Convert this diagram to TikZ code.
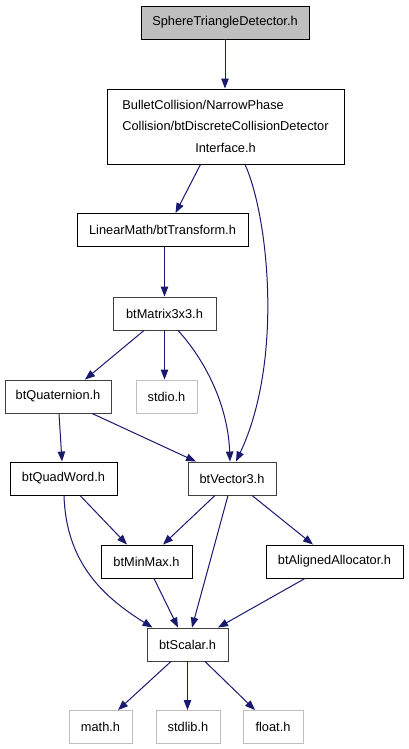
\documentclass[tikz,border=0pt]{standalone}
\usepackage{fontspec}
\setmainfont{Liberation Sans}
\usetikzlibrary{arrows.meta,calc}
\definecolor{edgeblue}{HTML}{191970}
\definecolor{rootgray}{HTML}{BFBFBF}
\definecolor{extgray}{HTML}{BFBFBF}
\definecolor{darkborder}{HTML}{404040}
\begin{document}
\begin{tikzpicture}[x=1pt,y=-1pt,
  box/.style={draw=black, line width=0.9pt, minimum height=33pt, inner sep=0pt,
    font=\fontsize{12.8}{21.5}\selectfont, anchor=center, fill=white},
  darkbox/.style={box, draw=darkborder},
  extbox/.style={box, draw=extgray},
  rootbox/.style={box, fill=rootgray},
  edge/.style={draw=edgeblue, line width=1pt, -{Triangle[length=10pt,width=7.5pt]}}
]
\useasboundingbox[fill=white] (0,0) rectangle (408,749);

\node[rootbox, minimum width=168pt] (std) at (225,22.5) {SphereTriangleDetector.h};
\node[box, minimum width=237pt, minimum height=75pt] (disc) at (225.5,126.5)
  {\begin{tabular}{@{}l@{}}BulletCollision/NarrowPhase\\Collision/btDiscreteCollisionDetector\\\multicolumn{1}{@{}c@{}}{Interface.h}\end{tabular}};
\node[box, minimum width=171pt] (trans) at (162.5,230) {LinearMath/btTransform.h};
\node[darkbox, minimum width=103pt] (mat) at (164.5,313.5) {btMatrix3x3.h};
\node[darkbox, minimum width=106pt] (quat) at (58,396.5) {btQuaternion.h};
\node[extbox, minimum width=61pt] (stdio) at (166.5,396.5) {stdio.h};
\node[box, minimum width=107pt] (quad) at (63.5,478.5) {btQuadWord.h};
\node[darkbox, minimum width=88pt] (vec) at (232,478.5) {btVector3.h};
\node[box, minimum width=91pt] (minmax) at (146.5,561.5) {btMinMax.h};
\node[box, minimum width=137pt] (aligned) at (334.5,561.5) {btAlignedAllocator.h};
\node[darkbox, minimum width=81pt] (scalar) at (187.5,644.5) {btScalar.h};
\node[extbox, minimum width=63pt] (math) at (100.5,727) {math.h};
\node[extbox, minimum width=64pt] (stdlib) at (188,727) {stdlib.h};
\node[extbox, minimum width=60pt] (float) at (273,727) {float.h};

\draw[edge] (std.south) -- (disc.north -| std.south);
\draw[edge] ($(disc.south)+(-25,0)$) -- ($(trans.north)+(13,0)$);
\draw[edge] ($(disc.south)+(19.5,0)$) .. controls (268,215) and (284,360) .. ($(vec.north)+(4,0)$);
\draw[edge] (trans.south -| mat.north) -- (mat.north);
\draw[edge] ($(mat.south)+(-20.5,0)$) -- ($(quat.north)+(27,0)$);
\draw[edge] (mat.south) -- (stdio.north -| mat.south);
\draw[edge] ($(mat.south)+(13.5,0)$) .. controls (205,360) and (228,405) .. ($(vec.north)+(-2,0)$);
\draw[edge] ($(quat.south)+(1,0)$) -- ($(quad.north)+(-1.5,0)$);
\draw[edge] ($(quat.south)+(34,0)$) -- ($(vec.north)+(-36,0)$);
\draw[edge] ($(quad.south)+(16.5,0)$) -- ($(minmax.north)+(-19.5,0)$);
\draw[edge] ($(quad.south)+(0.5,0)$) .. controls (66,560) and (100,595) .. ($(scalar.north)+(-35,0)$);
\draw[edge] ($(vec.south)+(-17,0)$) -- ($(minmax.north)+(16.5,0)$);
\draw[edge] ($(vec.south)+(-4,0)$) -- ($(scalar.north)+(4.5,0)$);
\draw[edge] ($(vec.south)+(20,0)$) -- ($(aligned.north)+(-21.5,0)$);
\draw[edge] ($(minmax.south)+(7.5,0)$) -- ($(scalar.north)+(-9.5,0)$);
\draw[edge] ($(aligned.south)+(-29.5,0)$) -- ($(scalar.north)+(30.5,0)$);
\draw[edge] ($(scalar.south)+(-16.5,0)$) -- ($(math.north)+(17.5,0)$);
\draw[edge] (scalar.south) -- (stdlib.north -| scalar.south);
\draw[edge] ($(scalar.south)+(17.5,0)$) -- ($(float.north)+(-18,0)$);
\end{tikzpicture}
\end{document}
